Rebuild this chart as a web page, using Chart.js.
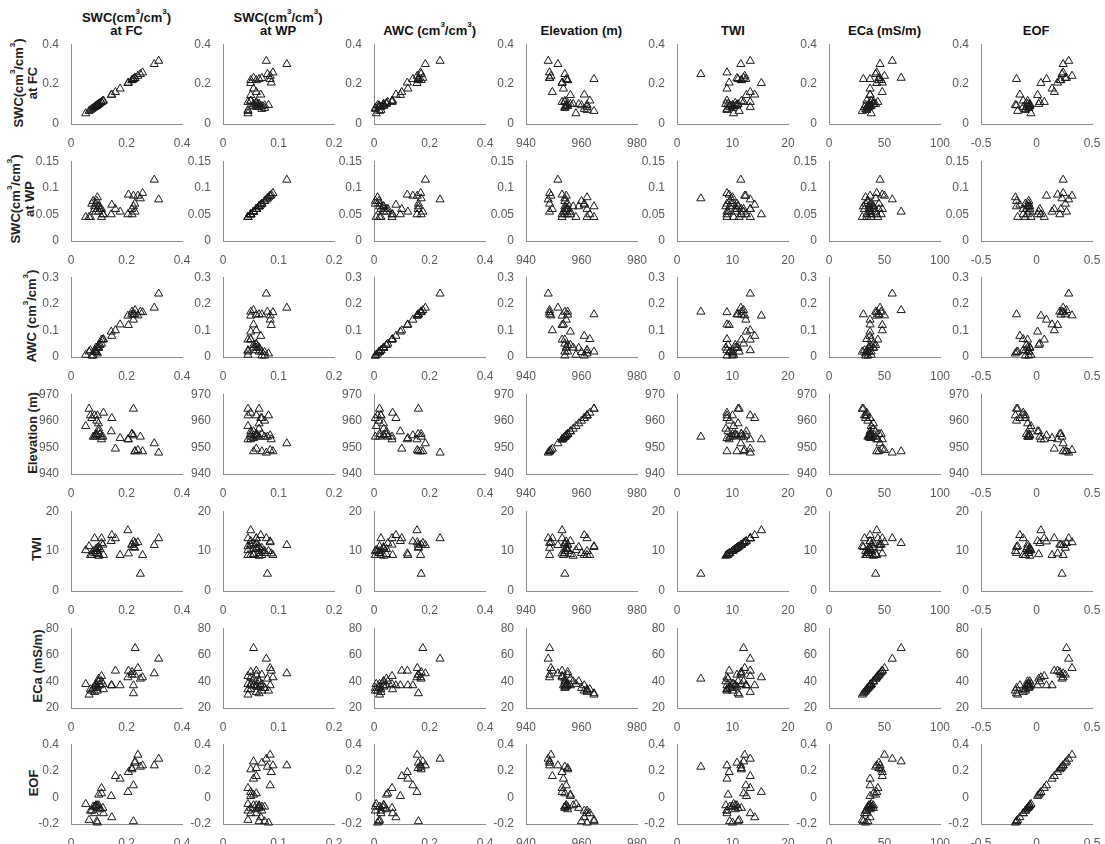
<!DOCTYPE html>
<html><head><meta charset="utf-8">
<script src="https://cdn.jsdelivr.net/npm/chart.js@4.4.0/dist/chart.umd.min.js"></script>
<style>
html,body{margin:0;padding:0;background:#fff;}
#wrap{position:relative;width:1105px;height:844px;overflow:hidden;font-family:"Liberation Sans",Arial,Helvetica,sans-serif;}
canvas{position:absolute;}
.ct{position:absolute;font-weight:bold;font-size:13px;color:#111;text-align:center;line-height:13px;white-space:nowrap;transform:translate(-50%,-100%);}
.rl{position:absolute;font-weight:bold;font-size:13px;color:#222;white-space:nowrap;text-align:center;line-height:14px;transform:translate(-50%,-50%) rotate(-90deg);}
sup{font-size:8px;line-height:8px;vertical-align:top;position:relative;top:-3px;}
</style></head>
<body><div id="wrap"></div>
<script>
// ---- data (one entry per sampling location) ----
const FC   = [0.316,0.300,0.231,0.250,0.205,0.225,0.207,0.177,0.219,0.225,0.241,0.258,0.230,0.220,0.160,0.147,0.145,
              0.053,0.065,0.075,0.080,0.085,0.090,0.093,0.095,0.099,0.100,0.105,0.110,0.110,0.115,0.117,0.085,0.090,0.095,0.070,0.100];
const WP   = [0.078,0.115,0.055,0.080,0.050,0.065,0.087,0.055,0.060,0.085,0.085,0.090,0.070,0.050,0.060,0.068,0.050,
              0.045,0.045,0.070,0.075,0.060,0.055,0.075,0.082,0.065,0.055,0.060,0.045,0.060,0.050,0.050,0.065,0.070,0.060,0.045,0.065];
const AWC  = [0.238,0.185,0.176,0.170,0.155,0.160,0.120,0.122,0.159,0.140,0.156,0.168,0.160,0.170,0.100,0.079,0.095,
              0.008,0.020,0.005,0.005,0.025,0.035,0.018,0.013,0.034,0.045,0.045,0.065,0.050,0.065,0.067,0.020,0.020,0.035,0.025,0.035];
const ELEV = [948,951.5,948.5,954,953,964.5,953,953.5,955,954.5,949,948.5,948.5,955,949.5,961,956,
              958,964.5,961,954,962,954.5,960,962,959,956,955,953,954,954,963,954,955,954.5,962,957];
const TWI  = [13.2,11.5,12,4.3,15.2,11,9.4,9,11.6,12.4,12.2,9,10.8,11.6,13.2,14,12.5,
              10.2,11.2,9,10,13.2,10.5,9.5,10,11,9.2,10.5,13.2,12,11.6,9,9.5,10,10.8,9,8.8];
const ECA  = [57,46,65,42,43,31,48,37,45,37,50,43,45,47,48,37,37,
              38,30,33,35,32,37,35,33,40,42,37,44,40,38,34,36,38,36,34,40];
const EOF  = [0.29,0.24,0.27,0.23,0.04,-0.18,0.19,0.14,0.22,0.09,0.32,0.24,0.26,0.21,0.16,-0.15,0.01,
              -0.05,-0.17,-0.10,-0.07,-0.12,-0.06,-0.18,-0.19,-0.08,0.02,-0.09,0.07,0.03,-0.08,-0.12,-0.07,-0.07,-0.06,-0.10,-0.06];

// ---- tick labels per variable ----
const xTickValues = [[0,0.2,0.4],[0,0.1,0.2],[0,0.2,0.4],[940,960,980],[0,10,20],[0,50,100],[-0.5,0,0.5]];
const yTickValues = [[0,0.2,0.4],[0,0.05,0.1,0.15],[0,0.1,0.2,0.3],[940,950,960,970],[0,10,20],[20,40,60,80],[-0.2,0,0.2,0.4]];

// ---- labels ----
const colTitles = [
  'SWC(cm<sup>3</sup>/cm<sup>3</sup>)<br>at FC',
  'SWC(cm<sup>3</sup>/cm<sup>3</sup>)<br>at WP',
  'AWC (cm<sup>3</sup>/cm<sup>3</sup>)',
  'Elevation (m)',
  'TWI',
  'ECa (mS/m)',
  'EOF'
];
const rowLabels = colTitles;

const vars = [FC, WP, AWC, ELEV, TWI, ECA, EOF];

// ---- layout ----
const plotW = 111, plotH = 83;
const colX0 = 71, colStep = 151.6;
const rowY0 = 41, rowStep = 116.7;
const padL = 45, padT = 8, padR = 16, padB = 24;
const rowLabelX = [26, 23, 32, 33, 37, 38, 34];

const wrap = document.getElementById('wrap');
const fmt = v => String(parseFloat(Number(v).toFixed(3)));
const tickFont = {family: '"Liberation Sans", Arial, sans-serif', size: 12};

for (let c = 0; c < 7; c++) {
  const t = document.createElement('div');
  t.className = 'ct';
  t.innerHTML = colTitles[c];
  t.style.left = (colX0 + c * colStep + plotW / 2) + 'px';
  t.style.top = '37px';
  wrap.appendChild(t);
}
for (let r = 0; r < 7; r++) {
  const l = document.createElement('div');
  l.className = 'rl';
  l.innerHTML = rowLabels[r];
  l.style.left = rowLabelX[r] + 'px';
  l.style.top = (rowY0 + r * rowStep + plotH / 2) + 'px';
  wrap.appendChild(l);
}

for (let r = 0; r < 7; r++) {
  for (let c = 0; c < 7; c++) {
    const cv = document.createElement('canvas');
    const w = padL + plotW + padR, h = padT + plotH + padB;
    cv.width = w; cv.height = h;
    cv.style.width = w + 'px'; cv.style.height = h + 'px';
    cv.style.left = (colX0 + c * colStep - padL) + 'px';
    cv.style.top = (rowY0 + r * rowStep - padT) + 'px';
    wrap.appendChild(cv);
    const xs = vars[c], ys = vars[r];
    const pts = xs.map((v, i) => ({x: v, y: ys[i]}));
    const xt = xTickValues[c], yt = yTickValues[r];
    new Chart(cv, {
      type: 'scatter',
      data: {datasets: [{
        data: pts,
        pointStyle: 'triangle',
        pointRadius: 4.7,
        borderWidth: 1,
        borderColor: '#1a1a1a',
        backgroundColor: 'rgba(255,255,255,0)',
        clip: false
      }]},
      options: {
        responsive: false, animation: false, events: [],
        layout: {padding: {left: 0, top: padT, right: padR, bottom: 0}},
        plugins: {legend: {display: false}, tooltip: {enabled: false}},
        scales: {
          x: {
            type: 'linear', min: xt[0], max: xt[xt.length - 1],
            afterBuildTicks: s => { s.ticks = xt.map(v => ({value: v})); },
            afterFit: s => { s.height = padB; },
            grid: {display: false},
            border: {display: true, color: '#8c8c8c', width: 1},
            ticks: {color: '#5a5a5a', font: tickFont, padding: 4, maxRotation: 0, autoSkip: false, callback: v => fmt(v)}
          },
          y: {
            type: 'linear', min: yt[0], max: yt[yt.length - 1],
            afterBuildTicks: s => { s.ticks = yt.map(v => ({value: v})); },
            afterFit: s => { s.width = padL; },
            grid: {display: false},
            border: {display: true, color: '#8c8c8c', width: 1},
            ticks: {color: '#5a5a5a', font: tickFont, padding: 4, autoSkip: false, callback: v => fmt(v)}
          }
        }
      }
    });
  }
}
</script>
</body></html>
